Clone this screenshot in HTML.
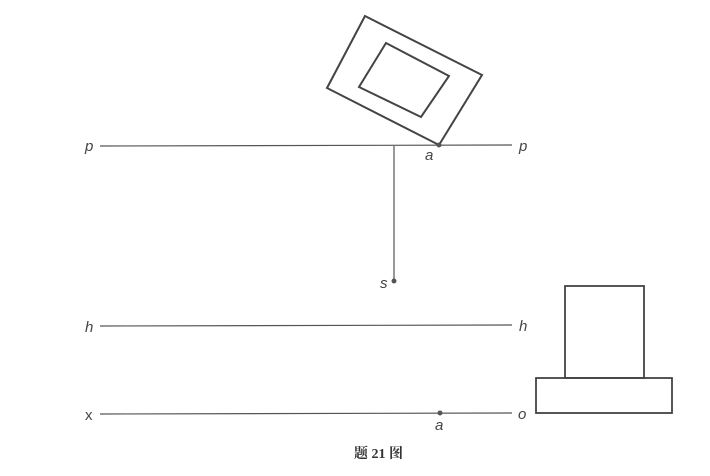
<!DOCTYPE html>
<html><head><meta charset="utf-8"><style>
html,body{margin:0;padding:0;background:#fff;width:710px;height:476px;overflow:hidden}
</style></head><body>
<svg width="710" height="476" viewBox="0 0 710 476" xmlns="http://www.w3.org/2000/svg">
<g fill="none" stroke="#444" stroke-width="2">
<polygon points="365,16 482,75 439,145 327,88"/>
<polygon points="386,43 449,76 421,117 359,87"/>
<rect x="565" y="286" width="79" height="92" stroke-width="1.8"/>
<rect x="536" y="378" width="136" height="35" stroke-width="1.8"/>
</g>
<g stroke="#555" stroke-width="1.2">
<line x1="100" y1="146" x2="512" y2="145"/>
<line x1="394" y1="146" x2="394" y2="281"/>
<line x1="100" y1="326" x2="512" y2="325"/>
<line x1="100" y1="414" x2="512" y2="413"/>
</g>
<g fill="#555"><circle cx="394" cy="281" r="2.5"/><circle cx="440" cy="413" r="2.5"/><circle cx="439" cy="145" r="2.5"/></g>
<g font-family="Liberation Sans, sans-serif" font-style="italic" font-size="15" fill="#444">
<text x="85" y="151">p</text>
<text x="519" y="151">p</text>
<text x="425" y="160">a</text>
<text x="380" y="288">s</text>
<text x="85" y="332">h</text>
<text x="519" y="331">h</text>
<text x="85" y="420" font-style="normal">x</text>
<text x="518" y="419">o</text>
<text x="435" y="430">a</text>
</g>
<text x="354" y="458" font-family="Liberation Serif, Noto Serif CJK SC, serif" font-size="14" font-weight="bold" fill="#333">题 21 图</text>
</svg>
</body></html>
